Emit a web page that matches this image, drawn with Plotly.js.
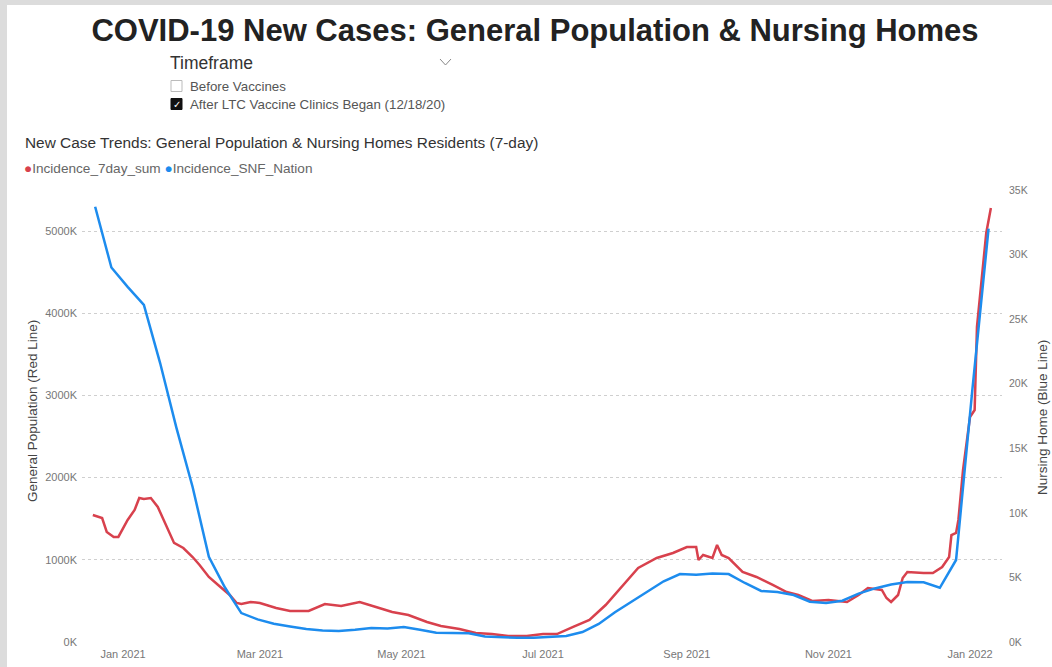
<!DOCTYPE html>
<html>
<head>
<meta charset="utf-8">
<script src="https://cdn.plot.ly/plotly-3.0.1.min.js"></script>
<style>
  html, body { margin: 0; padding: 0; background: #ffffff; }
  #wrap { position: relative; width: 1052px; height: 667px; background: #dcdcdc; overflow: hidden; }
  #chart { position: absolute; left: 7px; top: 5px; width: 1045px; height: 662px; background: #ffffff; }
</style>
</head>
<body>
<div id="wrap"><div id="chart"></div></div>
<script>
// ---- Data (values in thousands of cases) ----
const generalDates = ['2020-12-19','2020-12-23','2020-12-25','2020-12-28','2020-12-30','2021-01-03','2021-01-06','2021-01-08','2021-01-10','2021-01-13','2021-01-16','2021-01-20','2021-01-23','2021-01-27','2021-01-31','2021-02-03','2021-02-07','2021-02-11','2021-02-16','2021-02-19','2021-02-21','2021-02-25','2021-03-01','2021-03-08','2021-03-14','2021-03-22','2021-03-29','2021-04-05','2021-04-13','2021-04-20','2021-04-27','2021-05-04','2021-05-12','2021-05-18','2021-05-26','2021-06-02','2021-06-09','2021-06-16','2021-06-24','2021-07-01','2021-07-07','2021-07-14','2021-07-21','2021-07-28','2021-08-04','2021-08-11','2021-08-19','2021-08-26','2021-09-01','2021-09-05','2021-09-06','2021-09-08','2021-09-12','2021-09-14','2021-09-16','2021-09-19','2021-09-25','2021-10-01','2021-10-08','2021-10-14','2021-10-19','2021-10-25','2021-11-01','2021-11-09','2021-11-14','2021-11-18','2021-11-24','2021-11-26','2021-11-28','2021-12-01','2021-12-03','2021-12-05','2021-12-12','2021-12-16','2021-12-20','2021-12-23','2021-12-24','2021-12-26','2021-12-27','2021-12-29','2022-01-01','2022-01-03','2022-01-04','2022-01-08','2022-01-10'];
const incidence7daySumK = [1546,1509,1339,1278,1278,1485,1606,1752,1740,1752,1643,1400,1205,1144,1034,937,791,694,572,475,462,487,475,414,377,377,462,438,487,426,365,329,243,195,158,110,97,73,73,97,97,183,268,450,669,901,1022,1083,1156,1156,998,1059,1022,1180,1059,1022,852,791,694,608,572,499,511,487,572,657,633,535,487,572,779,852,840,840,913,1034,1302,1327,1485,2093,2738,2823,3834,4978,5282];

const snfDates = ['2020-12-20','2020-12-27','2021-01-03','2021-01-10','2021-01-17','2021-01-24','2021-01-31','2021-02-07','2021-02-14','2021-02-21','2021-02-28','2021-03-07','2021-03-14','2021-03-21','2021-03-28','2021-04-04','2021-04-11','2021-04-18','2021-04-25','2021-05-02','2021-05-09','2021-05-16','2021-05-23','2021-05-30','2021-06-06','2021-06-13','2021-06-20','2021-06-27','2021-07-04','2021-07-11','2021-07-18','2021-07-25','2021-08-01','2021-08-08','2021-08-15','2021-08-22','2021-08-29','2021-09-05','2021-09-12','2021-09-19','2021-09-26','2021-10-03','2021-10-10','2021-10-17','2021-10-24','2021-10-31','2021-11-07','2021-11-14','2021-11-21','2021-11-28','2021-12-05','2021-12-12','2021-12-19','2021-12-26','2022-01-02','2022-01-09'];
const incidenceSnfNationK = [33.7,29.0,27.5,26.1,21.6,16.6,12.0,6.6,4.2,2.24,1.75,1.42,1.2,1.0,0.9,0.85,0.95,1.08,1.05,1.16,0.95,0.72,0.7,0.68,0.42,0.35,0.32,0.33,0.4,0.46,0.77,1.4,2.3,3.1,3.95,4.7,5.26,5.2,5.3,5.26,4.57,3.95,3.87,3.64,3.12,3.02,3.2,3.75,4.15,4.45,4.64,4.62,4.2,6.35,19.5,32.0];

const seriesNames = ['Incidence_7day_sum', 'Incidence_SNF_Nation'];
const seriesColors = ['#d8414d', '#1d8cee'];
const leftTicks = [0, 1000, 2000, 3000, 4000, 5000];
const leftTickLabels = ['0K', '1000K', '2000K', '3000K', '4000K', '5000K'];
const rightTicks = [0, 5, 10, 15, 20, 25, 30, 35];
const rightTickLabels = ['0K', '5K', '10K', '15K', '20K', '25K', '30K', '35K'];
const timeframeOptions = ['Before Vaccines', 'After LTC Vaccine Clinics Began (12/18/20)'];
const timeframeChecked = [false, true];

// ---- helpers: page pixel -> paper coords (plot area 82..1002 x, 190..642 y) ----
const PL = 82, PR = 1002, PT = 190, PB = 642;
const px = x => (x - PL) / (PR - PL);
const py = y => (PB - y) / (PB - PT);

const FONT = '"Liberation Sans", Arial, sans-serif';

const traces = [
  { x: generalDates, y: incidence7daySumK, name: seriesNames[0], type: 'scatter', mode: 'lines',
    line: { color: seriesColors[0], width: 2.5 }, yaxis: 'y', hovertemplate: '%{x}<br>%{y}K<extra></extra>' },
  { x: snfDates, y: incidenceSnfNationK, name: seriesNames[1], type: 'scatter', mode: 'lines',
    line: { color: seriesColors[1], width: 2.5 }, yaxis: 'y2', hovertemplate: '%{x}<br>%{y}K<extra></extra>' }
];

const annotations = [
  { text: 'Timeframe', xref: 'paper', yref: 'paper', x: px(168), y: py(63), xanchor: 'left', yanchor: 'middle',
    showarrow: false, font: { family: FONT, size: 17.5, color: '#333' } },
  { text: 'New Case Trends: General Population &amp; Nursing Homes Residents (7-day)', xref: 'paper', yref: 'paper',
    x: px(23), y: py(143), xanchor: 'left', yanchor: 'middle', showarrow: false,
    font: { family: FONT, size: 15.4, color: '#333' } },
  { text: '<span style="color:' + seriesColors[0] + '">●</span>' + seriesNames[0] + ' <span style="color:' + seriesColors[1] + '">●</span>' + seriesNames[1],
    xref: 'paper', yref: 'paper', x: px(22), y: py(168), xanchor: 'left', yanchor: 'middle', showarrow: false,
    font: { family: FONT, size: 13.6, color: '#666' } },
  { text: 'General Population (Red Line)', xref: 'paper', yref: 'paper', x: px(32), y: py(411), textangle: -90,
    xanchor: 'center', yanchor: 'middle', showarrow: false, font: { family: FONT, size: 13.5, color: '#444' } },
  { text: 'Nursing Home (Blue Line)', xref: 'paper', yref: 'paper', x: px(1042), y: py(418), textangle: -90,
    xanchor: 'center', yanchor: 'middle', showarrow: false, font: { family: FONT, size: 13.5, color: '#444' } }
];

const shapes = [
  // dropdown chevron
  { type: 'path', xref: 'paper', yref: 'paper',
    path: 'M ' + px(440) + ',' + py(59) + ' L ' + px(445.5) + ',' + py(65) + ' L ' + px(451) + ',' + py(59),
    line: { color: '#888', width: 1 } }
];

timeframeOptions.forEach((opt, i) => {
  const cy = 86 + i * 18;
  shapes.push({ type: 'rect', xref: 'paper', yref: 'paper', x0: px(171), x1: px(182), y0: py(cy + 5.5), y1: py(cy - 5.5),
    line: { color: timeframeChecked[i] ? '#111' : '#bbb', width: 1 }, fillcolor: timeframeChecked[i] ? '#111' : '#fff' });
  if (timeframeChecked[i]) {
    annotations.push({ text: '✓', xref: 'paper', yref: 'paper', x: px(176.5), y: py(cy), xanchor: 'center', yanchor: 'middle',
      showarrow: false, font: { family: '"DejaVu Sans", sans-serif', size: 10, color: '#fff' } });
  }
  annotations.push({ text: opt, xref: 'paper', yref: 'paper', x: px(188), y: py(cy), xanchor: 'left', yanchor: 'middle',
    showarrow: false, font: { family: FONT, size: 13.3, color: '#555' } });
});

const layout = {
  width: 1045, height: 662,
  margin: { l: 75, r: 50, t: 185, b: 25, pad: 0 },
  paper_bgcolor: '#ffffff', plot_bgcolor: '#ffffff',
  showlegend: false,
  title: { text: '<b>COVID-19 New Cases: General Population &amp; Nursing Homes</b>', x: (535 - 7) / 1045, xanchor: 'center',
    y: 1 - (30 - 5) / 662, yanchor: 'middle', font: { family: FONT, size: 31, color: '#222' } },
  xaxis: {
    type: 'date', range: ['2020-12-14 08:00', '2022-01-14 19:00'],
    tick0: '2021-01-01', dtick: 'M2', tickformat: '%b %Y',
    showgrid: false, zeroline: false, showline: false, ticks: '', ticklabelstandoff: 4,
    tickfont: { family: FONT, size: 11, color: '#777' }
  },
  yaxis: {
    range: [0, 5500], tickmode: 'array', tickvals: leftTicks, ticktext: leftTickLabels,
    showgrid: true, gridcolor: '#cfcfcf', griddash: 'dot', gridwidth: 1,
    zeroline: false, showline: false, ticks: '', ticklabelstandoff: 4,
    tickfont: { family: FONT, size: 11, color: '#777' }
  },
  yaxis2: {
    range: [0, 35], tickmode: 'array', tickvals: rightTicks, ticktext: rightTickLabels, overlaying: 'y', side: 'right',
    showgrid: false, zeroline: false, showline: false, ticks: '', ticklabelstandoff: 6,
    tickfont: { family: FONT, size: 10.5, color: '#777' }
  },
  annotations: annotations,
  shapes: shapes
};

Plotly.newPlot('chart', traces, layout, { displayModeBar: false, responsive: false });
</script>
</body>
</html>
